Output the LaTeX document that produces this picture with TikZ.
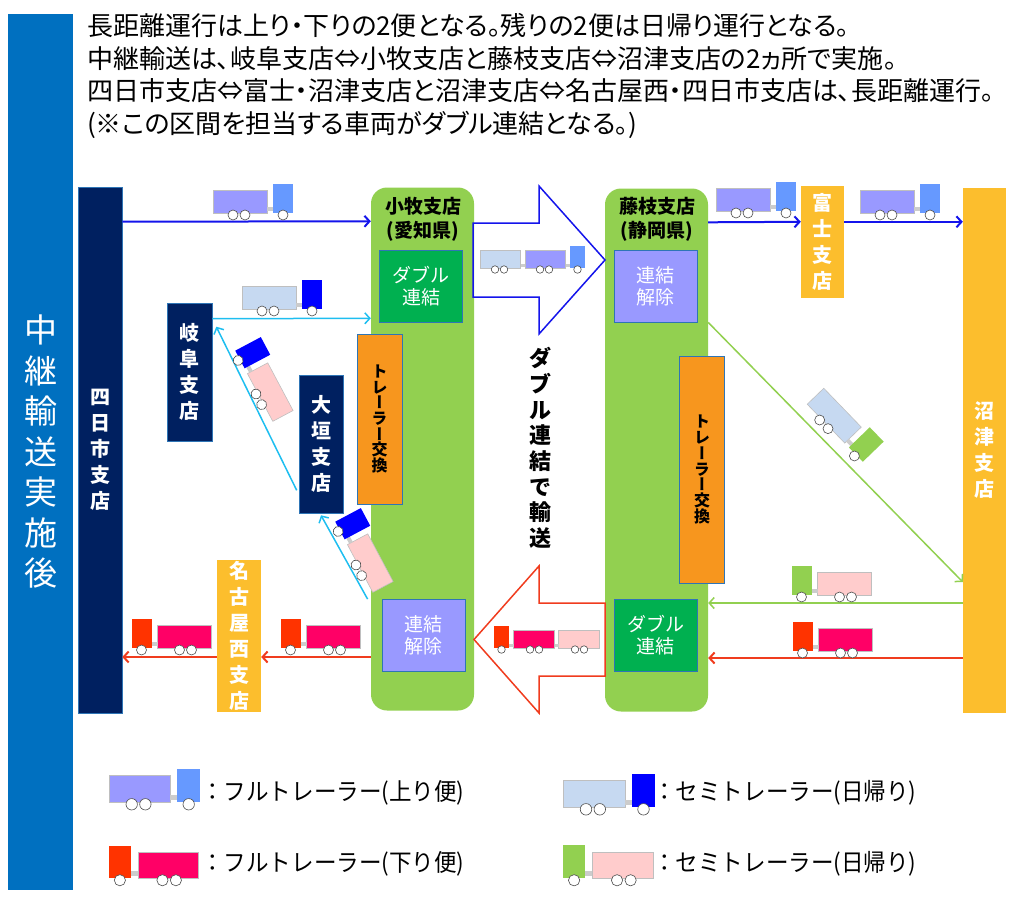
\documentclass[tikz,border=0pt]{standalone}
\usepackage{fontspec}
\setmainfont{Noto Sans CJK JP}
\newfontfamily\jpnar{Noto Sans CJK JP}[FakeStretch=0.94]
\newfontfamily\jpprop{Noto Sans CJK JP}[RawFeature=+palt]
\newfontfamily\jpvert{Noto Sans CJK JP}[RawFeature=+vert]
\usetikzlibrary{arrows.meta}

\definecolor{bandblue}{RGB}{0,112,192}
\definecolor{navy}{RGB}{0,32,96}
\definecolor{hubgreen}{RGB}{146,208,80}
\definecolor{dblgreen}{RGB}{0,176,80}
\definecolor{lav}{RGB}{153,153,255}
\definecolor{xorange}{RGB}{247,150,30}
\definecolor{gold}{RGB}{252,190,45}
\definecolor{rimblue}{RGB}{46,117,182}
\definecolor{runblue}{RGB}{20,20,235}
\definecolor{cyanline}{RGB}{30,190,240}
\definecolor{redline}{RGB}{240,60,30}
\definecolor{trpurple}{RGB}{153,153,255}
\definecolor{cablight}{RGB}{102,153,255}
\definecolor{trsky}{RGB}{198,217,241}
\definecolor{cabblue}{RGB}{0,0,255}
\definecolor{cabred}{RGB}{255,51,0}
\definecolor{trmagenta}{RGB}{255,0,102}
\definecolor{trpink}{RGB}{255,204,204}

\tikzset{
  band/.style={fill=bandblue, text=white, inner sep=0pt, align=center,
    minimum width=65pt, minimum height=876pt, font=\fontsize{33}{40.5}\selectfont},
  branch/.style={fill=navy, draw=rimblue, line width=0.6pt, text=white, inner sep=0pt,
    align=center, font=\bfseries\fontsize{20}{26}\selectfont},
  depot/.style={fill=gold, text=white, inner sep=0pt, align=center,
    font=\bfseries\fontsize{20}{26}\selectfont},
  hub/.style={fill=hubgreen, rounded corners=16pt, minimum width=103pt,
    minimum height=523pt, inner sep=0pt},
  hubname/.style={align=center, inner sep=0pt, font=\bfseries\fontsize{19}{24}\selectfont},
  task/.style={draw=rimblue, line width=0.8pt, text=white, minimum width=83pt,
    minimum height=72pt, inner sep=0pt, align=center, font=\fontsize{19}{22}\selectfont},
  swap/.style={fill=xorange, draw=rimblue, line width=0.6pt, inner sep=0pt, align=center,
    minimum width=45pt, font={\jpvert\bfseries\fontsize{16}{15.7}\selectfont\lineskiplimit=-20pt}},
  up run/.style={runblue, line width=2pt, -{Straight Barb[length=5pt,width=11pt]}},
  day run/.style={cyanline, line width=1.5pt, -{Straight Barb[length=5pt,width=11pt]}},
  back run/.style={hubgreen, line width=1.5pt, -{Straight Barb[length=5pt,width=11pt]}},
  down run/.style={redline, line width=2pt, -{Straight Barb[length=5pt,width=11pt]}},
  key/.style={anchor=west, inner sep=0pt, font=\jpnar\fontsize{24}{28}\selectfont},
  pics/rig/.style 2 args={code={
    \draw[fill=#1, draw=black!25, line width=0.6pt] (-40,0) rectangle (14,-23);
    \fill[black!20] (14,-2) rectangle (20,-6);
    \fill[#2] (20,0) rectangle (40,-29);
    \foreach \wx in {-20,-8,30}
      \draw[fill=white, draw=black!70, line width=0.6pt] (\wx,2) circle[radius=5];
  }},
  pics/dbl/.style n args={3}{code={
    \draw[fill=#1, draw=black!25, line width=0.6pt] (-70,0) rectangle (-16,-23);
    \fill[black!20] (-16,-2) rectangle (-10,-6);
    \draw[fill=#2, draw=black!25, line width=0.6pt] (-10,0) rectangle (44,-23);
    \fill[black!20] (44,-2) rectangle (50,-6);
    \fill[#3] (50,0) rectangle (70,-29);
    \foreach \wx in {-50,-38,10,22,60}
      \draw[fill=white, draw=black!70, line width=0.6pt] (\wx,2) circle[radius=5];
  }},
}

\begin{document}
\begin{tikzpicture}[x=1pt, y=-1pt]
\useasboundingbox (0,0) rectangle (1024,899);

% left band and notes
\node[band] (band) at (40.5,452) {中\\継\\輸\\送\\実\\施\\後};
\node[anchor=west, align=left, inner sep=0pt, font=\jpprop\fontsize{26}{32.5}\selectfont] (notes) at (87,76)
  {長距離運行は上り・下りの2便となる。残りの2便は日帰り運行となる。\\
   中継輸送は、岐阜支店⇔小牧支店と藤枝支店⇔沼津支店の2ヵ所で実施。\\
   四日市支店⇔富士・沼津支店と沼津支店⇔名古屋西・四日市支店は、長距離運行。\\
   (※この区間を担当する車両がダブル連結となる。)};

% branches
\node[branch, minimum width=44pt, minimum height=526pt] (yokkaichi) at (100,450) {四\\日\\市\\支\\店};
\node[branch, minimum width=45pt, minimum height=138pt] (gifu) at (189.5,372) {岐\\阜\\支\\店};
\node[branch, minimum width=44pt, minimum height=138pt] (ogaki) at (321,444) {大\\垣\\支\\店};
\node[depot, minimum width=44pt, minimum height=152pt] (nagoya) at (239,636) {名\\古\\屋\\西\\支\\店};
\node[depot, minimum width=43pt, minimum height=112pt] (fuji) at (822.5,242) {富\\士\\支\\店};
\node[depot, minimum width=43pt, minimum height=525pt] (numazu) at (984.5,450.5) {沼\\津\\支\\店};

% relay hubs
\node[hub] (komaki) at (422.5,449) {};
\node[hubname] (komakiname) at (423,219) {小牧支店\\(愛知県)};
\node[task, fill=dblgreen] (couple1) at (421,286) {ダブル\\連結};
\node[swap, minimum height=170pt] (swap1) at (379.5,419) {ト\\レ\\ー\\ラ\\ー\\交\\換};
\node[task, fill=lav] (split1) at (423.5,635.5) {連結\\解除};

\node[hub] (fujieda) at (656.5,450) {};
\node[hubname] (fujiedaname) at (657,219) {藤枝支店\\(静岡県)};
\node[task, fill=lav] (split2) at (655.5,286) {連結\\解除};
\node[swap, minimum height=227pt] (swap2) at (702,469.5) {ト\\レ\\ー\\ラ\\ー\\交\\換};
\node[task, fill=dblgreen] (couple2) at (655.5,635.5) {ダブル\\連結};

% double haul arrows
\draw[runblue, line width=1.5pt] (473,223) -- (539,223) -- (539,186) -- (605,260)
  -- (539,334) -- (539,297) -- (473,297) -- cycle;
\draw[redline, line width=1.5pt] (605,603) -- (539,603) -- (539,566) -- (474,639.5)
  -- (539,713) -- (539,676) -- (605,676) -- cycle;
\node[align=center, inner sep=0pt, font=\bfseries\fontsize{22}{25.7}\selectfont] (via) at (540,448)
  {ダ\\ブ\\ル\\連\\結\\で\\輸\\送};

% runs
\draw[up run] ([yshift=-35pt]yokkaichi.north east) -- ([yshift=-34pt]komaki.north west);
\draw[up run] ([yshift=-34pt]fujieda.north east) -- ([yshift=-36pt]fuji.north west);
\draw[up run] ([yshift=-36pt]fuji.north east) -- ([yshift=-34pt]numazu.north west);
\draw[day run] ([yshift=-16pt]gifu.north east) -- ([yshift=-131pt]komaki.north west);
\draw[day run] ([yshift=23pt,xshift=-2pt]ogaki.south west) -- ([yshift=-24pt,xshift=4pt]gifu.north east);
\draw[day run] ([xshift=-14pt]split1.north west) -- ([yshift=-2pt]ogaki.south);
\draw[back run] (fujieda.east |- split2.south) -- ([yshift=-131.5pt]numazu.west);
\draw[back run] ([yshift=-152.5pt]numazu.west) -- ([yshift=-153pt]fujieda.east);
\draw[down run] ([yshift=-207.5pt]numazu.west) -- ([yshift=-208pt]fujieda.east);
\draw[down run] ([yshift=-208pt]komaki.west) -- ([yshift=-21pt]nagoya.east);
\draw[down run] ([yshift=-21pt]nagoya.west) -- ([yshift=-207pt]yokkaichi.east);

% trucks
\pic[shift={(253,213)}] {rig={trpurple}{cablight}};
\pic[shift={(756,211)}] {rig={trpurple}{cablight}};
\pic[shift={(900,213)}] {rig={trpurple}{cablight}};
\pic[shift={(282,309)}] {rig={trsky}{cabblue}};
\pic[shift={(254,386)}, rotate=-62, xscale=-1] {rig={trpink}{cabblue}};
\pic[shift={(354,557)}, rotate=-62, xscale=-1] {rig={trpink}{cabblue}};
\pic[shift={(835,433)}, rotate=-46] {rig={trsky}{hubgreen}};
\pic[shift={(831.5,595)}, xscale=-1] {rig={trpink}{hubgreen}};
\pic[shift={(832.5,651)}, xscale=-1] {rig={trmagenta}{cabred}};
\pic[shift={(320.5,648)}, xscale=-1] {rig={trmagenta}{cabred}};
\pic[shift={(171.5,648)}, xscale=-1] {rig={trmagenta}{cabred}};
\pic[shift={(532.5,268)}, scale=0.75] {dbl={trsky}{trpurple}{cablight}};
\pic[shift={(546.5,648)}, scale=0.75, xscale=-1] {dbl={trpink}{trmagenta}{cabred}};

% legend
\pic[shift={(154.5,802)}, scale=1.14] {rig={trpurple}{cablight}};
\pic[shift={(609,807)}, scale=1.15] {rig={trsky}{cabblue}};
\pic[shift={(153.5,878)}, scale=1.12, xscale=-1] {rig={trmagenta}{cabred}};
\pic[shift={(608,878)}, scale=1.13, xscale=-1] {rig={trpink}{hubgreen}};
\node[key] (keyup) at (201,793) {：フルトレーラー(上り便)};
\node[key] (keydown) at (201,864) {：フルトレーラー(下り便)};
\node[key] (keyday) at (653,793) {：セミトレーラー(日帰り)};
\node[key] (keyback) at (653,864) {：セミトレーラー(日帰り)};
\end{tikzpicture}
\end{document}
